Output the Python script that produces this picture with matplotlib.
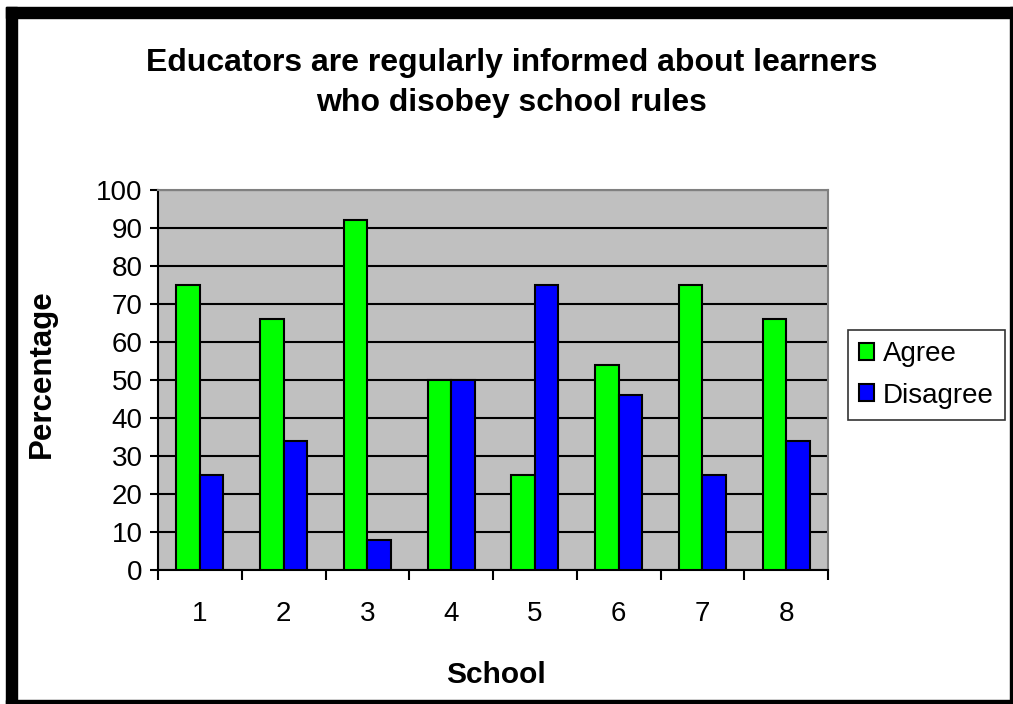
import numpy as np
import matplotlib.pyplot as plt
from matplotlib.patches import Rectangle

plt.rcParams['font.family'] = ['Liberation Sans', 'DejaVu Sans']

schools = ['1', '2', '3', '4', '5', '6', '7', '8']
agree = [75, 66, 92, 50, 25, 54, 75, 66]
disagree = [25, 34, 8, 50, 75, 46, 25, 34]
yticks = [0, 10, 20, 30, 40, 50, 60, 70, 80, 90, 100]

W, H = 1013, 704
fig = plt.figure(figsize=(W / 100, H / 100), dpi=100)

# plot area in pixels: x 158..828, y 190..570
ax = fig.add_axes([158 / W, (H - 570) / H, (828 - 158) / W, (570 - 190) / H])
ax.set_facecolor('#c0c0c0')

x = np.arange(1, len(schools) + 1)
bw = 0.28
ax.bar(x - bw / 2, agree, bw, color='#00ff00', edgecolor='black', linewidth=1.5,
       label='Agree', zorder=3)
ax.bar(x + bw / 2, disagree, bw, color='#0000ff', edgecolor='black', linewidth=1.5,
       label='Disagree', zorder=3)

ax.set_xlim(0.5, len(schools) + 0.5)
ax.set_ylim(0, 100)
ax.set_yticks(yticks)
ax.yaxis.grid(True, color='black', linewidth=1.5, zorder=1)
ax.set_axisbelow(True)

# category labels in the middle, tick marks on the boundaries
ax.set_xticks(x)
ax.set_xticklabels(schools)
ax.set_xticks(np.arange(0.5, len(schools) + 1), minor=True)
ax.tick_params(axis='x', which='major', length=0, pad=22, labelsize=20)
ax.tick_params(axis='x', which='minor', length=7, width=1.5, direction='out')
ax.tick_params(axis='y', length=6, width=1.5, pad=5, labelsize=20)

for s in ['top', 'right']:
    ax.spines[s].set_color('#808080')
    ax.spines[s].set_linewidth(1.5)
for s in ['left', 'bottom']:
    ax.spines[s].set_linewidth(1.5)

fig.text(512 / W, 1 - 83 / H, 'Educators are regularly informed about learners\nwho disobey school rules',
         ha='center', va='center', fontsize=23, fontweight='bold', linespacing=1.45)
fig.text(496 / W, 1 - 675 / H, 'School', ha='center', va='center', fontsize=21.5, fontweight='bold')
fig.text(42 / W, 1 - 374 / H, 'Percentage', ha='center', va='center', rotation=90,
         fontsize=22.5, fontweight='bold')

leg = fig.legend(loc='center left', bbox_to_anchor=(848 / W, 1 - 375 / H), fontsize=20,
                 frameon=True, fancybox=False, edgecolor='black', handlelength=0.55,
                 handleheight=0.55, handletextpad=0.3, borderpad=0.4, labelspacing=0.55,
                 borderaxespad=0)
leg.get_frame().set_linewidth(1.2)

# black frame round the chart
def band(x0, y0, x1, y1):
    fig.patches.append(Rectangle((x0 / W, 1 - y1 / H), (x1 - x0) / W, (y1 - y0) / H,
                                 transform=fig.transFigure, color='black', zorder=10))

band(6, 7, W, 18)
band(6, 7, 17, H)
band(1010, 7, W, H)
band(6, 700, W, H)

fig.savefig('out.png', dpi=100)
